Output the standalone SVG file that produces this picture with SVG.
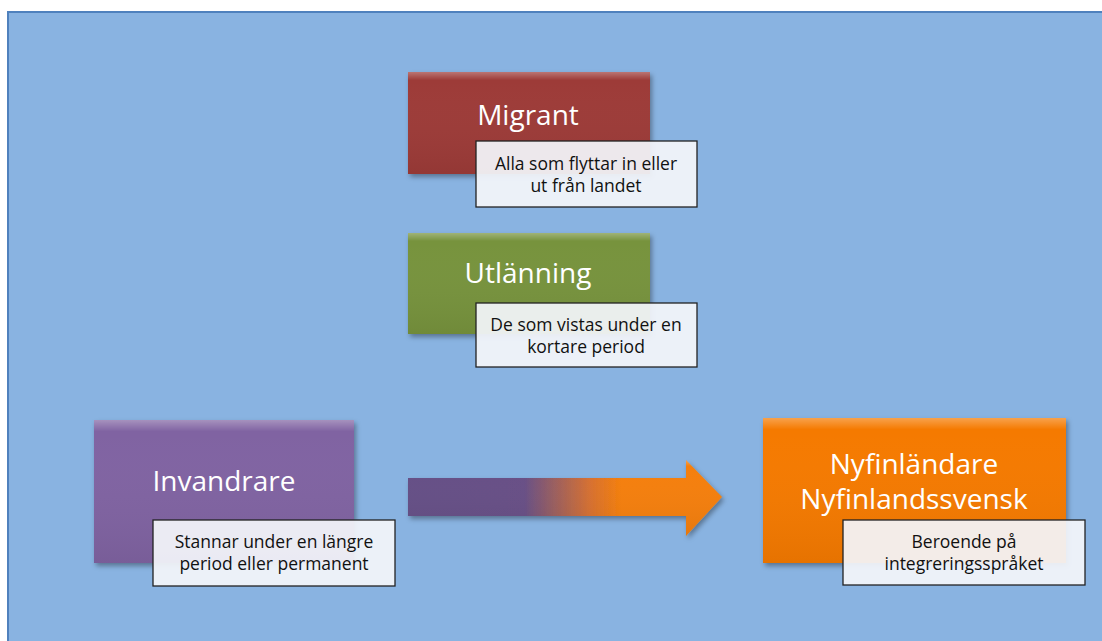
<svg xmlns="http://www.w3.org/2000/svg" width="1102" height="641" viewBox="0 0 1102 641">
<style>
.title{font-family:"Open Sans","Liberation Sans",sans-serif;font-size:28px;fill:#ffffff;text-anchor:middle}
.note{font-family:"Open Sans","Liberation Sans",sans-serif;font-size:17.5px;fill:#111111;text-anchor:middle}
.box{stroke:none;filter:url(#sh)}
.call{fill:#f3f5fa;fill-opacity:0.93;stroke:#222;stroke-width:1.3}
</style>
<defs>
<filter id="sh" x="-10%" y="-10%" width="125%" height="130%">
<feDropShadow dx="2" dy="3" stdDeviation="2.5" flood-color="#000" flood-opacity="0.35"/>
</filter>
<linearGradient id="arrowGrad" x1="408" y1="0" x2="722" y2="0" gradientUnits="userSpaceOnUse">
<stop offset="0" stop-color="#654f86"/>
<stop offset="0.37" stop-color="#674f86"/>
<stop offset="0.58" stop-color="#d77030"/>
<stop offset="0.68" stop-color="#f57f0a"/>
<stop offset="1" stop-color="#f57f0a"/>
</linearGradient>
<linearGradient id="hl" x1="0" y1="0" x2="0" y2="1">
<stop offset="0" stop-color="#fff" stop-opacity="0.3"/>
<stop offset="0.08" stop-color="#fff" stop-opacity="0"/>
<stop offset="1" stop-color="#000" stop-opacity="0.06"/>
</linearGradient>
</defs>
<rect x="0" y="0" width="1102" height="641" fill="#ffffff"/>
<rect x="8" y="12" width="1100" height="640" fill="#89b3e1" stroke="#4f81bd" stroke-width="2"/>

<g id="connectors">
<path d="M408,478 L686,478 L686,460 L722,497 L686,536 L686,516 L408,516 Z" fill="url(#arrowGrad)" filter="url(#sh)"/>
<path d="M408,478 L686,478 L686,460 L722,497 L686,536 L686,516 L408,516 Z" fill="url(#hl)"/>
</g>

<g id="migrant">
<rect class="box" x="408" y="72" width="242" height="102" fill="#9d3a37"/>
<rect x="408" y="72" width="242" height="102" fill="url(#hl)"/>
<text class="title" x="528" y="125">Migrant</text>
<rect class="call" x="476" y="141" width="221" height="66"/>
<text class="note" x="586" y="170">Alla som flyttar in eller</text>
<text class="note" x="586" y="192">ut från landet</text>
</g>

<g id="utlanning">
<rect class="box" x="408" y="233" width="242" height="101" fill="#77933c"/>
<rect x="408" y="233" width="242" height="101" fill="url(#hl)"/>
<text class="title" x="528" y="283">Utlänning</text>
<rect class="call" x="476" y="303" width="221" height="64"/>
<text class="note" x="586" y="331">De som vistas under en</text>
<text class="note" x="586" y="353">kortare period</text>
</g>

<g id="invandrare">
<rect class="box" x="94" y="420" width="260" height="143" fill="#8064a2"/>
<rect x="94" y="420" width="260" height="143" fill="url(#hl)"/>
<text class="title" x="224" y="491">Invandrare</text>
<rect class="call" x="153" y="520" width="242" height="66"/>
<text class="note" x="274" y="548">Stannar under en längre</text>
<text class="note" x="274" y="570">period eller permanent</text>
</g>

<g id="nyfinlandare">
<rect class="box" x="763" y="418" width="303" height="145" fill="#f57a00"/>
<rect x="763" y="418" width="303" height="145" fill="url(#hl)"/>
<text class="title" x="914" y="474">Nyfinländare</text>
<text class="title" x="914" y="509">Nyfinlandssvensk</text>
<rect class="call" x="843" y="520" width="242" height="65"/>
<text class="note" x="964" y="548">Beroende på</text>
<text class="note" x="964" y="570">integreringsspråket</text>
</g>
</svg>
